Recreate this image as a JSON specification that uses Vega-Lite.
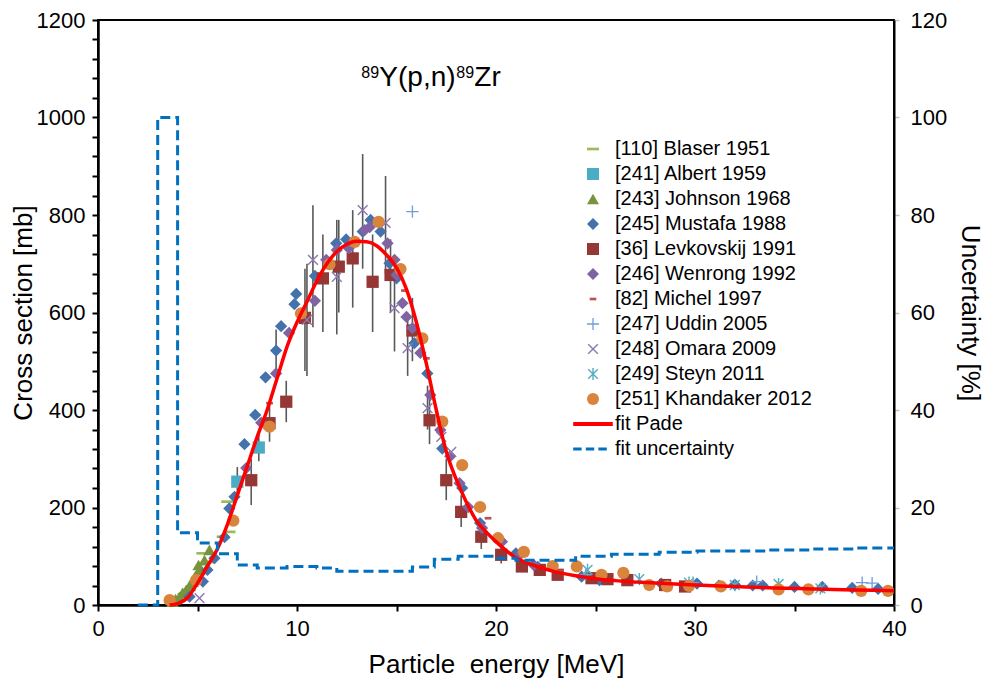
{
  "$schema": "https://vega.github.io/schema/vega-lite/v6.json",
  "width": 796,
  "height": 585,
  "autosize": {"type": "none"},
  "padding": {"left": 98, "top": 20, "right": 96, "bottom": 78},
  "config": {
    "font": "Liberation Sans",
    "view": {"stroke": "black", "strokeWidth": 2},
    "axis": {"labelFont": "Liberation Sans", "titleFont": "Liberation Sans", "labelColor": "#000", "titleColor": "#000", "titleFontWeight": "normal", "grid": false, "zindex": 1}
  },
  "datasets": {
    "pts": [
      {"s": "[110] Blaser 1951", "E": 3.9, "y": 10},
      {"s": "[110] Blaser 1951", "E": 4.3, "y": 22},
      {"s": "[110] Blaser 1951", "E": 4.6, "y": 31},
      {"s": "[110] Blaser 1951", "E": 5.25, "y": 106},
      {"s": "[110] Blaser 1951", "E": 5.6, "y": 88},
      {"s": "[110] Blaser 1951", "E": 6.27, "y": 140},
      {"s": "[110] Blaser 1951", "E": 6.5, "y": 212},
      {"s": "[110] Blaser 1951", "E": 6.6, "y": 150},
      {"s": "[241] Albert 1959", "E": 7.0, "y": 253, "lo": 225, "hi": 283},
      {"s": "[241] Albert 1959", "E": 8.08, "y": 323, "lo": 295, "hi": 350},
      {"s": "[243] Johnson 1968", "E": 3.75, "y": 7},
      {"s": "[243] Johnson 1968", "E": 3.9, "y": 12},
      {"s": "[243] Johnson 1968", "E": 4.1, "y": 17},
      {"s": "[243] Johnson 1968", "E": 4.25, "y": 25},
      {"s": "[243] Johnson 1968", "E": 4.43, "y": 31},
      {"s": "[243] Johnson 1968", "E": 4.6, "y": 40},
      {"s": "[243] Johnson 1968", "E": 4.76, "y": 48},
      {"s": "[243] Johnson 1968", "E": 4.9, "y": 60},
      {"s": "[243] Johnson 1968", "E": 5.05, "y": 82},
      {"s": "[243] Johnson 1968", "E": 5.1, "y": 72},
      {"s": "[243] Johnson 1968", "E": 5.35, "y": 92},
      {"s": "[243] Johnson 1968", "E": 5.6, "y": 113},
      {"s": "[245] Mustafa 1988", "E": 4.6, "y": 17},
      {"s": "[245] Mustafa 1988", "E": 5.27, "y": 48},
      {"s": "[245] Mustafa 1988", "E": 5.5, "y": 72},
      {"s": "[245] Mustafa 1988", "E": 5.85, "y": 96},
      {"s": "[245] Mustafa 1988", "E": 6.36, "y": 139},
      {"s": "[245] Mustafa 1988", "E": 6.6, "y": 198},
      {"s": "[245] Mustafa 1988", "E": 6.86, "y": 222},
      {"s": "[245] Mustafa 1988", "E": 7.36, "y": 330},
      {"s": "[245] Mustafa 1988", "E": 7.9, "y": 390},
      {"s": "[245] Mustafa 1988", "E": 8.42, "y": 467},
      {"s": "[245] Mustafa 1988", "E": 8.95, "y": 522, "lo": 480, "hi": 565},
      {"s": "[245] Mustafa 1988", "E": 9.2, "y": 572},
      {"s": "[245] Mustafa 1988", "E": 9.87, "y": 617},
      {"s": "[245] Mustafa 1988", "E": 9.96, "y": 638},
      {"s": "[245] Mustafa 1988", "E": 10.9, "y": 675},
      {"s": "[245] Mustafa 1988", "E": 11.97, "y": 742},
      {"s": "[245] Mustafa 1988", "E": 12.47, "y": 750},
      {"s": "[245] Mustafa 1988", "E": 13.3, "y": 766},
      {"s": "[245] Mustafa 1988", "E": 13.7, "y": 790},
      {"s": "[245] Mustafa 1988", "E": 14.2, "y": 766},
      {"s": "[245] Mustafa 1988", "E": 14.65, "y": 701},
      {"s": "[245] Mustafa 1988", "E": 15.0, "y": 670},
      {"s": "[245] Mustafa 1988", "E": 15.9, "y": 537},
      {"s": "[245] Mustafa 1988", "E": 16.55, "y": 475},
      {"s": "[245] Mustafa 1988", "E": 17.3, "y": 321},
      {"s": "[245] Mustafa 1988", "E": 18.3, "y": 240},
      {"s": "[245] Mustafa 1988", "E": 19.2, "y": 168},
      {"s": "[245] Mustafa 1988", "E": 21.0, "y": 106},
      {"s": "[245] Mustafa 1988", "E": 22.1, "y": 78},
      {"s": "[245] Mustafa 1988", "E": 24.3, "y": 58},
      {"s": "[245] Mustafa 1988", "E": 25.2, "y": 51},
      {"s": "[245] Mustafa 1988", "E": 28.3, "y": 44},
      {"s": "[245] Mustafa 1988", "E": 30.1, "y": 44},
      {"s": "[245] Mustafa 1988", "E": 31.2, "y": 40},
      {"s": "[245] Mustafa 1988", "E": 32.0, "y": 42},
      {"s": "[245] Mustafa 1988", "E": 32.9, "y": 40},
      {"s": "[245] Mustafa 1988", "E": 33.4, "y": 40},
      {"s": "[245] Mustafa 1988", "E": 35.0, "y": 37},
      {"s": "[245] Mustafa 1988", "E": 36.4, "y": 37},
      {"s": "[245] Mustafa 1988", "E": 37.9, "y": 35},
      {"s": "[245] Mustafa 1988", "E": 39.2, "y": 33},
      {"s": "[36] Levkovskij 1991", "E": 7.7, "y": 256, "lo": 205, "hi": 300},
      {"s": "[36] Levkovskij 1991", "E": 8.62, "y": 373, "lo": 335, "hi": 410},
      {"s": "[36] Levkovskij 1991", "E": 9.46, "y": 417, "lo": 375, "hi": 460},
      {"s": "[36] Levkovskij 1991", "E": 10.4, "y": 589, "lo": 480, "hi": 690},
      {"s": "[36] Levkovskij 1991", "E": 11.3, "y": 670, "lo": 560, "hi": 760},
      {"s": "[36] Levkovskij 1991", "E": 12.1, "y": 694, "lo": 600, "hi": 790},
      {"s": "[36] Levkovskij 1991", "E": 12.8, "y": 711, "lo": 610, "hi": 810},
      {"s": "[36] Levkovskij 1991", "E": 13.8, "y": 663, "lo": 560, "hi": 760},
      {"s": "[36] Levkovskij 1991", "E": 14.7, "y": 677, "lo": 600, "hi": 750},
      {"s": "[36] Levkovskij 1991", "E": 15.8, "y": 563, "lo": 500, "hi": 630},
      {"s": "[36] Levkovskij 1991", "E": 16.66, "y": 379, "lo": 330, "hi": 430},
      {"s": "[36] Levkovskij 1991", "E": 17.5, "y": 256, "lo": 215, "hi": 300},
      {"s": "[36] Levkovskij 1991", "E": 18.25, "y": 191, "lo": 160, "hi": 225},
      {"s": "[36] Levkovskij 1991", "E": 19.26, "y": 140, "lo": 115, "hi": 165},
      {"s": "[36] Levkovskij 1991", "E": 20.26, "y": 103, "lo": 85, "hi": 120},
      {"s": "[36] Levkovskij 1991", "E": 21.3, "y": 79},
      {"s": "[36] Levkovskij 1991", "E": 22.2, "y": 72},
      {"s": "[36] Levkovskij 1991", "E": 23.1, "y": 62},
      {"s": "[36] Levkovskij 1991", "E": 24.8, "y": 55},
      {"s": "[36] Levkovskij 1991", "E": 25.6, "y": 53},
      {"s": "[36] Levkovskij 1991", "E": 26.6, "y": 51},
      {"s": "[36] Levkovskij 1991", "E": 28.5, "y": 41},
      {"s": "[36] Levkovskij 1991", "E": 29.5, "y": 38},
      {"s": "[246] Wenrong 1992", "E": 7.45, "y": 281},
      {"s": "[246] Wenrong 1992", "E": 8.2, "y": 374},
      {"s": "[246] Wenrong 1992", "E": 8.95, "y": 475},
      {"s": "[246] Wenrong 1992", "E": 9.6, "y": 558},
      {"s": "[246] Wenrong 1992", "E": 10.9, "y": 624},
      {"s": "[246] Wenrong 1992", "E": 11.47, "y": 708},
      {"s": "[246] Wenrong 1992", "E": 12.0, "y": 728},
      {"s": "[246] Wenrong 1992", "E": 12.6, "y": 732},
      {"s": "[246] Wenrong 1992", "E": 13.4, "y": 769},
      {"s": "[246] Wenrong 1992", "E": 13.65, "y": 775},
      {"s": "[246] Wenrong 1992", "E": 14.55, "y": 742},
      {"s": "[246] Wenrong 1992", "E": 14.9, "y": 708},
      {"s": "[246] Wenrong 1992", "E": 15.0, "y": 677},
      {"s": "[246] Wenrong 1992", "E": 15.3, "y": 619},
      {"s": "[246] Wenrong 1992", "E": 15.5, "y": 591},
      {"s": "[246] Wenrong 1992", "E": 15.8, "y": 568},
      {"s": "[246] Wenrong 1992", "E": 16.2, "y": 517},
      {"s": "[246] Wenrong 1992", "E": 16.7, "y": 431},
      {"s": "[246] Wenrong 1992", "E": 17.2, "y": 359},
      {"s": "[246] Wenrong 1992", "E": 17.7, "y": 305},
      {"s": "[246] Wenrong 1992", "E": 18.17, "y": 250},
      {"s": "[246] Wenrong 1992", "E": 18.6, "y": 201},
      {"s": "[246] Wenrong 1992", "E": 19.3, "y": 158},
      {"s": "[246] Wenrong 1992", "E": 20.3, "y": 130},
      {"s": "[246] Wenrong 1992", "E": 21.2, "y": 103},
      {"s": "[246] Wenrong 1992", "E": 21.9, "y": 82},
      {"s": "[82] Michel 1997", "E": 8.62, "y": 414},
      {"s": "[82] Michel 1997", "E": 14.8, "y": 711},
      {"s": "[82] Michel 1997", "E": 15.4, "y": 645},
      {"s": "[82] Michel 1997", "E": 16.5, "y": 506},
      {"s": "[82] Michel 1997", "E": 19.6, "y": 178},
      {"s": "[82] Michel 1997", "E": 23.2, "y": 70},
      {"s": "[247] Uddin 2005", "E": 15.8, "y": 807},
      {"s": "[247] Uddin 2005", "E": 24.5, "y": 62},
      {"s": "[247] Uddin 2005", "E": 29.9, "y": 46},
      {"s": "[247] Uddin 2005", "E": 33.1, "y": 48},
      {"s": "[247] Uddin 2005", "E": 38.4, "y": 46},
      {"s": "[247] Uddin 2005", "E": 38.9, "y": 45},
      {"s": "[248] Omara 2009", "E": 5.1, "y": 14},
      {"s": "[248] Omara 2009", "E": 10.5, "y": 585, "lo": 470, "hi": 700},
      {"s": "[248] Omara 2009", "E": 10.8, "y": 708, "lo": 570, "hi": 820},
      {"s": "[248] Omara 2009", "E": 12.0, "y": 673, "lo": 555, "hi": 790},
      {"s": "[248] Omara 2009", "E": 13.3, "y": 810, "lo": 690, "hi": 925},
      {"s": "[248] Omara 2009", "E": 14.45, "y": 784, "lo": 680, "hi": 880},
      {"s": "[248] Omara 2009", "E": 14.9, "y": 609, "lo": 520, "hi": 700},
      {"s": "[248] Omara 2009", "E": 15.56, "y": 527, "lo": 470, "hi": 600},
      {"s": "[248] Omara 2009", "E": 16.56, "y": 404, "lo": 360, "hi": 450},
      {"s": "[248] Omara 2009", "E": 17.25, "y": 345},
      {"s": "[248] Omara 2009", "E": 17.75, "y": 314},
      {"s": "[249] Steyn 2011", "E": 24.6, "y": 72},
      {"s": "[249] Steyn 2011", "E": 27.2, "y": 53},
      {"s": "[249] Steyn 2011", "E": 29.7, "y": 46},
      {"s": "[249] Steyn 2011", "E": 32.0, "y": 41},
      {"s": "[249] Steyn 2011", "E": 34.2, "y": 43},
      {"s": "[249] Steyn 2011", "E": 36.3, "y": 34},
      {"s": "[251] Khandaker 2012", "E": 3.6, "y": 10},
      {"s": "[251] Khandaker 2012", "E": 4.93, "y": 51},
      {"s": "[251] Khandaker 2012", "E": 6.8, "y": 173},
      {"s": "[251] Khandaker 2012", "E": 8.62, "y": 366},
      {"s": "[251] Khandaker 2012", "E": 10.2, "y": 598},
      {"s": "[251] Khandaker 2012", "E": 11.63, "y": 699},
      {"s": "[251] Khandaker 2012", "E": 12.9, "y": 745},
      {"s": "[251] Khandaker 2012", "E": 14.1, "y": 786},
      {"s": "[251] Khandaker 2012", "E": 15.2, "y": 689},
      {"s": "[251] Khandaker 2012", "E": 16.3, "y": 547},
      {"s": "[251] Khandaker 2012", "E": 17.3, "y": 376},
      {"s": "[251] Khandaker 2012", "E": 18.3, "y": 287},
      {"s": "[251] Khandaker 2012", "E": 19.2, "y": 201},
      {"s": "[251] Khandaker 2012", "E": 20.1, "y": 137},
      {"s": "[251] Khandaker 2012", "E": 21.4, "y": 109},
      {"s": "[251] Khandaker 2012", "E": 22.85, "y": 80},
      {"s": "[251] Khandaker 2012", "E": 24.06, "y": 79},
      {"s": "[251] Khandaker 2012", "E": 25.3, "y": 62},
      {"s": "[251] Khandaker 2012", "E": 26.4, "y": 66},
      {"s": "[251] Khandaker 2012", "E": 27.7, "y": 41},
      {"s": "[251] Khandaker 2012", "E": 28.6, "y": 38},
      {"s": "[251] Khandaker 2012", "E": 29.7, "y": 39},
      {"s": "[251] Khandaker 2012", "E": 31.3, "y": 38},
      {"s": "[251] Khandaker 2012", "E": 34.2, "y": 32},
      {"s": "[251] Khandaker 2012", "E": 35.7, "y": 32},
      {"s": "[251] Khandaker 2012", "E": 38.35, "y": 29},
      {"s": "[251] Khandaker 2012", "E": 39.7, "y": 29}
    ],
    "fit": [
      {"s": "fit Pade", "E": 3.6, "y": 0}, {"s": "fit Pade", "E": 4.0, "y": 3}, {"s": "fit Pade", "E": 4.5, "y": 15},
      {"s": "fit Pade", "E": 5.0, "y": 45}, {"s": "fit Pade", "E": 5.5, "y": 80}, {"s": "fit Pade", "E": 6.0, "y": 115},
      {"s": "fit Pade", "E": 6.5, "y": 165}, {"s": "fit Pade", "E": 7.0, "y": 225}, {"s": "fit Pade", "E": 7.5, "y": 285},
      {"s": "fit Pade", "E": 8.0, "y": 345}, {"s": "fit Pade", "E": 8.5, "y": 400}, {"s": "fit Pade", "E": 9.0, "y": 465},
      {"s": "fit Pade", "E": 9.5, "y": 530}, {"s": "fit Pade", "E": 10.0, "y": 580}, {"s": "fit Pade", "E": 10.5, "y": 622},
      {"s": "fit Pade", "E": 11.0, "y": 665}, {"s": "fit Pade", "E": 11.5, "y": 700}, {"s": "fit Pade", "E": 12.0, "y": 725},
      {"s": "fit Pade", "E": 12.5, "y": 740}, {"s": "fit Pade", "E": 13.0, "y": 746}, {"s": "fit Pade", "E": 13.5, "y": 745},
      {"s": "fit Pade", "E": 14.0, "y": 737}, {"s": "fit Pade", "E": 14.5, "y": 718}, {"s": "fit Pade", "E": 15.0, "y": 692},
      {"s": "fit Pade", "E": 15.5, "y": 648}, {"s": "fit Pade", "E": 16.0, "y": 580}, {"s": "fit Pade", "E": 16.5, "y": 495},
      {"s": "fit Pade", "E": 17.0, "y": 400}, {"s": "fit Pade", "E": 17.5, "y": 315}, {"s": "fit Pade", "E": 18.0, "y": 258},
      {"s": "fit Pade", "E": 18.5, "y": 212}, {"s": "fit Pade", "E": 19.0, "y": 174}, {"s": "fit Pade", "E": 19.5, "y": 150},
      {"s": "fit Pade", "E": 20.0, "y": 130}, {"s": "fit Pade", "E": 21.0, "y": 97}, {"s": "fit Pade", "E": 22.0, "y": 80},
      {"s": "fit Pade", "E": 23.0, "y": 68}, {"s": "fit Pade", "E": 24.0, "y": 60}, {"s": "fit Pade", "E": 25.0, "y": 54},
      {"s": "fit Pade", "E": 26.0, "y": 50}, {"s": "fit Pade", "E": 28.0, "y": 45}, {"s": "fit Pade", "E": 30.0, "y": 41},
      {"s": "fit Pade", "E": 32.0, "y": 38}, {"s": "fit Pade", "E": 34.0, "y": 35}, {"s": "fit Pade", "E": 36.0, "y": 33},
      {"s": "fit Pade", "E": 38.0, "y": 31}, {"s": "fit Pade", "E": 40.0, "y": 29}
    ],
    "unc": [
      {"s": "fit uncertainty", "E": 2.0, "u": 0}, {"s": "fit uncertainty", "E": 3.0, "u": 100},
      {"s": "fit uncertainty", "E": 4.0, "u": 14.8}, {"s": "fit uncertainty", "E": 5.0, "u": 12.7},
      {"s": "fit uncertainty", "E": 6.0, "u": 10.5}, {"s": "fit uncertainty", "E": 7.0, "u": 8.2},
      {"s": "fit uncertainty", "E": 8.0, "u": 7.6}, {"s": "fit uncertainty", "E": 9.5, "u": 7.9},
      {"s": "fit uncertainty", "E": 11.0, "u": 7.6}, {"s": "fit uncertainty", "E": 12.0, "u": 6.9},
      {"s": "fit uncertainty", "E": 15.8, "u": 7.8}, {"s": "fit uncertainty", "E": 16.9, "u": 9.4},
      {"s": "fit uncertainty", "E": 18.1, "u": 10.0}, {"s": "fit uncertainty", "E": 19.8, "u": 9.6},
      {"s": "fit uncertainty", "E": 21.0, "u": 9.2}, {"s": "fit uncertainty", "E": 24.0, "u": 10.0},
      {"s": "fit uncertainty", "E": 25.8, "u": 10.4}, {"s": "fit uncertainty", "E": 28.2, "u": 10.8},
      {"s": "fit uncertainty", "E": 30.1, "u": 11.1}, {"s": "fit uncertainty", "E": 33.7, "u": 11.3},
      {"s": "fit uncertainty", "E": 35.9, "u": 11.5}, {"s": "fit uncertainty", "E": 38.0, "u": 11.7},
      {"s": "fit uncertainty", "E": 40.0, "u": 11.7}
    ],
    "label": [{"E": 16.8, "y": 1064}]
  },
  "resolve": {"scale": {"y": "independent"}},
  "layer": [
    {
      "layer": [
        {
          "data": {"name": "pts"},
          "transform": [{"filter": "isValid(datum.lo)"}],
          "mark": {"type": "rule", "color": "#595959", "strokeWidth": 1.6},
          "encoding": {
            "x": {"field": "E", "type": "quantitative"},
            "y": {"field": "lo", "type": "quantitative"},
            "y2": {"field": "hi"}
          }
        },
        {
          "data": {"name": "pts"},
          "mark": {"type": "point", "filled": true, "size": 150, "opacity": 1, "strokeWidth": 0},
          "encoding": {
            "x": {"field": "E", "type": "quantitative"},
            "y": {"field": "y", "type": "quantitative"},
            "color": {
              "field": "s", "type": "nominal",
              "scale": {
                "domain": ["[110] Blaser 1951", "[241] Albert 1959", "[243] Johnson 1968", "[245] Mustafa 1988", "[36] Levkovskij 1991", "[246] Wenrong 1992", "[82] Michel 1997", "[247] Uddin 2005", "[248] Omara 2009", "[249] Steyn 2011", "[251] Khandaker 2012", "fit Pade", "fit uncertainty"],
                "range": ["#9bbb59", "#4bacc6", "#77933c", "#4472ad", "#953735", "#8064a2", "#c0504d", "#6f9fd8", "#8c7ab0", "#5aaec0", "#d9843c", "#ff0000", "#0070c0"]
              },
              "legend": {
                "title": null, "orient": "none", "legendX": 485, "legendY": 119, "padding": 0,
                "labelFont": "Liberation Sans", "labelFontSize": 20, "labelColor": "#000", "labelLimit": 400,
                "symbolSize": 144, "labelOffset": 12, "rowPadding": 5, "symbolStrokeWidth": 0,
                "encode": {"symbols": {"update": {"fill": {"scale": "color", "field": "value"}, "strokeWidth": {"value": 0}, "opacity": {"value": 1}}}}
              }
            },
            "shape": {
              "field": "s", "type": "nominal",
              "scale": {
                "domain": ["[110] Blaser 1951", "[241] Albert 1959", "[243] Johnson 1968", "[245] Mustafa 1988", "[36] Levkovskij 1991", "[246] Wenrong 1992", "[82] Michel 1997", "[247] Uddin 2005", "[248] Omara 2009", "[249] Steyn 2011", "[251] Khandaker 2012", "fit Pade", "fit uncertainty"],
                "range": [
                  "M-1,-0.22H1V0.22H-1Z",
                  "square",
                  "triangle-up",
                  "diamond",
                  "square",
                  "diamond",
                  "M-0.55,-0.22H0.55V0.22H-0.55Z",
                  "M-1,-0.11H1V0.11H-1Z M-0.11,-1H0.11V1H-0.11Z",
                  "M-0.715,-0.885L0.885,0.715L0.715,0.885L-0.885,-0.715Z M-0.885,0.715L0.715,-0.885L0.885,-0.715L-0.715,0.885Z",
                  "M-0.715,-0.885L0.885,0.715L0.715,0.885L-0.885,-0.715Z M-0.885,0.715L0.715,-0.885L0.885,-0.715L-0.715,0.885Z M-0.12,-1H0.12V1H-0.12Z",
                  "circle",
                  "M-3.3,-0.33H3.3V0.33H-3.3Z",
                  "M-3.3,-0.25H-1.9V0.25H-3.3Z M-1.2,-0.25H0.2V0.25H-1.2Z M0.9,-0.25H2.3V0.25H0.9Z"
                ]
              },
              "legend": {
                "title": null, "orient": "none", "legendX": 485, "legendY": 119, "padding": 0,
                "labelFont": "Liberation Sans", "labelFontSize": 20, "labelColor": "#000", "labelLimit": 400,
                "symbolSize": 144, "labelOffset": 12, "rowPadding": 5, "symbolStrokeWidth": 0
              }
            }
          }
        },
        {
          "data": {"name": "fit"},
          "mark": {"type": "line", "strokeWidth": 3.5, "interpolate": "monotone"},
          "encoding": {
            "x": {"field": "E", "type": "quantitative"},
            "y": {"field": "y", "type": "quantitative"},
            "color": {"field": "s", "type": "nominal", "legend": null}
          }
        },
        {
          "data": {"name": "label"},
          "mark": {"type": "text", "fontSize": 16, "font": "Liberation Sans", "color": "#000", "align": "left", "baseline": "alphabetic", "dx": -71, "dy": -8},
          "encoding": {
            "x": {"field": "E", "type": "quantitative"},
            "y": {"field": "y", "type": "quantitative"},
            "text": {"value": "89"}
          }
        },
        {
          "data": {"name": "label"},
          "mark": {"type": "text", "fontSize": 28, "font": "Liberation Sans", "color": "#000", "align": "left", "baseline": "alphabetic", "dx": -53},
          "encoding": {
            "x": {"field": "E", "type": "quantitative"},
            "y": {"field": "y", "type": "quantitative"},
            "text": {"value": "Y(p,n)"}
          }
        },
        {
          "data": {"name": "label"},
          "mark": {"type": "text", "fontSize": 16, "font": "Liberation Sans", "color": "#000", "align": "left", "baseline": "alphabetic", "dx": 24, "dy": -8},
          "encoding": {
            "x": {"field": "E", "type": "quantitative"},
            "y": {"field": "y", "type": "quantitative"},
            "text": {"value": "89"}
          }
        },
        {
          "data": {"name": "label"},
          "mark": {"type": "text", "fontSize": 28, "font": "Liberation Sans", "color": "#000", "align": "left", "baseline": "alphabetic", "dx": 42},
          "encoding": {
            "x": {"field": "E", "type": "quantitative"},
            "y": {"field": "y", "type": "quantitative"},
            "text": {"value": "Zr"}
          }
        }
      ],
      "encoding": {
        "x": {
          "type": "quantitative",
          "scale": {"domain": [0, 40], "nice": false},
          "axis": {
            "title": "Particle\u00a0 energy [MeV]", "values": [0, 5, 10, 15, 20, 25, 30, 35, 40],
            "labelExpr": "datum.value % 10 === 0 ? datum.label : ''",
            "tickSize": 6, "tickWidth": 2, "tickColor": "#000", "labelPadding": 7,
            "encode": {"ticks": {"update": {"y2": {"value": -6}}}},
            "domainColor": "#000", "domainWidth": 2.5, "labelFontSize": 22, "titleFontSize": 26, "titlePadding": 12, "labelFlush": false
          }
        },
        "y": {
          "type": "quantitative",
          "scale": {"domain": [0, 1200], "nice": false},
          "axis": {
            "title": "Cross section [mb]", "format": "d",
            "values": [0, 40, 80, 120, 160, 200, 240, 280, 320, 360, 400, 440, 480, 520, 560, 600, 640, 680, 720, 760, 800, 840, 880, 920, 960, 1000, 1040, 1080, 1120, 1160, 1200],
            "labelExpr": "datum.value % 200 === 0 ? datum.label : ''",
            "tickSize": 6, "tickWidth": 2, "tickColor": "#000", "labelPadding": 7,
            "encode": {"ticks": {"update": {"x2": {"value": 6}}}},
            "domainColor": "#000", "domainWidth": 2.5, "labelFontSize": 22, "titleFontSize": 26, "titlePadding": 0, "labelFlush": false
          }
        }
      }
    },
    {
      "data": {"name": "unc"},
      "mark": {"type": "line", "interpolate": "step-after", "strokeWidth": 3, "strokeDash": [10, 5]},
      "encoding": {
        "x": {"field": "E", "type": "quantitative", "scale": {"domain": [0, 40], "nice": false}},
        "y": {
          "field": "u", "type": "quantitative",
          "scale": {"domain": [0, 120], "nice": false},
          "axis": {
            "orient": "right", "title": "Uncertainty [%]", "values": [0, 20, 40, 60, 80, 100, 120],
            "tickSize": 5, "tickWidth": 1.5, "tickColor": "#c0c0c0", "labelPadding": 11,
            "encode": {"ticks": {"update": {"x2": {"value": -5}}}},
            "domainColor": "#000", "domainWidth": 2, "labelFontSize": 22, "titleFontSize": 26, "titlePadding": 10, "labelFlush": false
          }
        },
        "color": {"field": "s", "type": "nominal", "legend": null}
      }
    }
  ]
}
